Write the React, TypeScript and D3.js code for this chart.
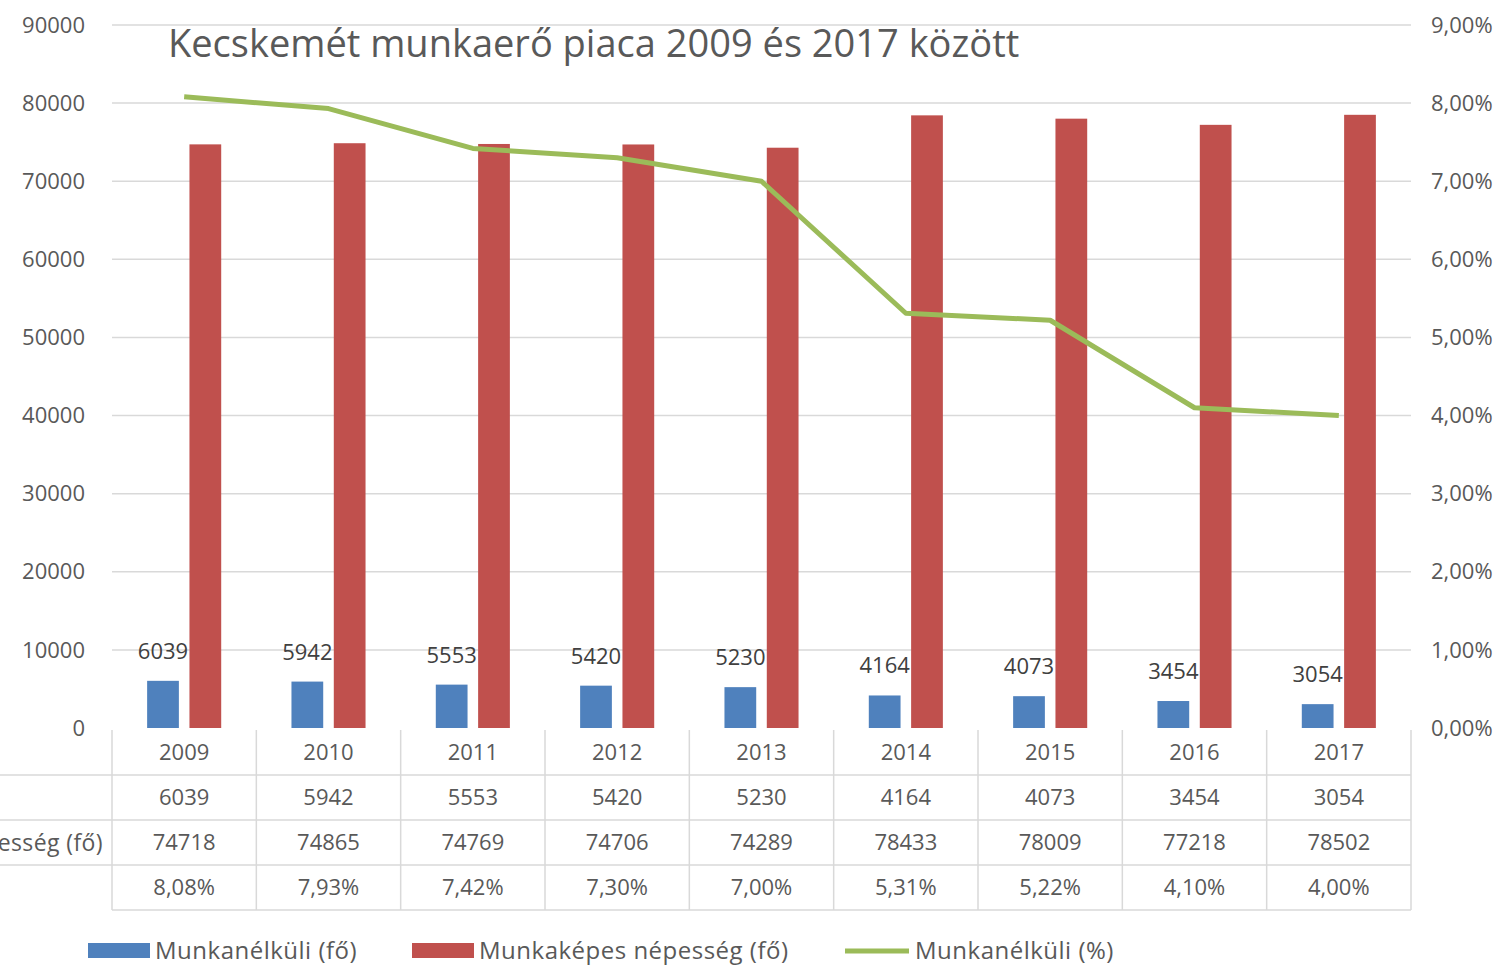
import React from "react";
import * as d3 from "d3";

const years = ["2009", "2010", "2011", "2012", "2013", "2014", "2015", "2016", "2017"];
const unemployed = [6039, 5942, 5553, 5420, 5230, 4164, 4073, 3454, 3054];
const workforce = [74718, 74865, 74769, 74706, 74289, 78433, 78009, 77218, 78502];
const unemployedPct = [8.08, 7.93, 7.42, 7.3, 7.0, 5.31, 5.22, 4.1, 4.0];
const leftTicks = [0, 10000, 20000, 30000, 40000, 50000, 60000, 70000, 80000, 90000];
const rightTicks = [0, 1, 2, 3, 4, 5, 6, 7, 8, 9];
const seriesNames = ["Munkanélküli (fő)", "Munkaképes népesség (fő)", "Munkanélküli (%)"];
const title = "Kecskemét munkaerő piaca 2009 és 2017 között";

const W = 1512;
const H = 967;
const font = "'Open Sans', Lato, sans-serif";
const txt = "#595959";
const grid = "#d9d9d9";
const blue = "#4F81BD";
const red = "#C0504D";
const green = "#9BBB59";

const fmtPct = (v: number) => v.toFixed(2).replace(".", ",") + "%";

const App = () => {
  const ref = React.useRef<SVGSVGElement>(null);

  React.useEffect(() => {
    const svg = d3.select(ref.current);
    svg.selectAll("*").remove();

    var left = 112,
      right = 1411,
      top = 25,
      bottom = 728,
      rowH = 45;

    const x = d3.scaleBand().domain(years).range([left, right]);
    const x1 = d3
      .scaleBand()
      .domain(["u", "w"])
      .range([0, x.bandwidth()])
      .paddingInner(0.25)
      .paddingOuter(0.83);
    const y = d3.scaleLinear().domain([0, 90000]).range([bottom, top]);
    const y2 = d3.scaleLinear().domain([0, 9]).range([bottom, top]);

    // gridlines
    svg
      .append("g")
      .selectAll("line")
      .data(leftTicks.slice(1))
      .join("line")
      .attr("x1", left)
      .attr("x2", right)
      .attr("y1", (d) => y(d))
      .attr("y2", (d) => y(d))
      .attr("stroke", grid)
      .attr("stroke-width", 1.5);

    // left axis
    svg
      .append("g")
      .selectAll("text")
      .data(leftTicks)
      .join("text")
      .attr("x", 85)
      .attr("y", (d) => y(d))
      .attr("dy", "0.35em")
      .attr("text-anchor", "end")
      .attr("font-size", 22)
      .attr("fill", txt)
      .text((d) => String(d));

    // right axis
    svg
      .append("g")
      .selectAll("text")
      .data(rightTicks)
      .join("text")
      .attr("x", 1431)
      .attr("y", (d) => y2(d))
      .attr("dy", "0.35em")
      .attr("font-size", 22)
      .attr("fill", txt)
      .text((d) => fmtPct(d));

    // title
    svg
      .append("text")
      .attr("x", 168)
      .attr("y", 57)
      .attr("font-size", 38)
      .attr("fill", txt)
      .text(title);

    // bars
    svg
      .append("g")
      .selectAll("rect")
      .data(years)
      .join("rect")
      .attr("x", (d) => x(d)! + x1("w")!)
      .attr("width", x1.bandwidth())
      .attr("y", (d, i) => y(workforce[i]))
      .attr("height", (d, i) => bottom - y(workforce[i]))
      .attr("fill", red);

    svg
      .append("g")
      .selectAll("rect")
      .data(years)
      .join("rect")
      .attr("x", (d) => x(d)! + x1("u")!)
      .attr("width", x1.bandwidth())
      .attr("y", (d, i) => y(unemployed[i]))
      .attr("height", (d, i) => bottom - y(unemployed[i]))
      .attr("fill", blue);

    // data labels on blue bars
    svg
      .append("g")
      .selectAll("text")
      .data(years)
      .join("text")
      .attr("x", (d) => x(d)! + x1("u")! + x1.bandwidth() / 2)
      .attr("y", (d, i) => y(unemployed[i]) - 22)
      .attr("text-anchor", "middle")
      .attr("font-size", 22)
      .attr("fill", "#404040")
      .text((d, i) => String(unemployed[i]));

    // line
    const line = d3
      .line<number>()
      .x((d, i) => x(years[i])! + x.bandwidth() / 2)
      .y((d) => y2(d));
    svg
      .append("path")
      .attr("d", line(unemployedPct))
      .attr("fill", "none")
      .attr("stroke", green)
      .attr("stroke-width", 5)
      .attr("stroke-linejoin", "round");

    // data table
    const tTop = bottom + 2;
    const rows = [years, unemployed.map(String), workforce.map(String), unemployedPct.map(fmtPct)];
    const table = svg.append("g");
    [1, 2, 3].forEach((r) => {
      table
        .append("line")
        .attr("x1", 0)
        .attr("x2", right)
        .attr("y1", tTop + r * rowH)
        .attr("y2", tTop + r * rowH)
        .attr("stroke", grid)
        .attr("stroke-width", 1.5);
    });
    table
      .append("line")
      .attr("x1", left)
      .attr("x2", right)
      .attr("y1", tTop + 4 * rowH)
      .attr("y2", tTop + 4 * rowH)
      .attr("stroke", grid)
      .attr("stroke-width", 1.5);
    table
      .selectAll("line.v")
      .data([...years.map((d) => x(d)!), right])
      .join("line")
      .attr("class", "v")
      .attr("x1", (d) => d)
      .attr("x2", (d) => d)
      .attr("y1", tTop)
      .attr("y2", tTop + 4 * rowH)
      .attr("stroke", grid)
      .attr("stroke-width", 1.5);

    rows.forEach((row, r) => {
      table
        .append("g")
        .selectAll("text")
        .data(row)
        .join("text")
        .attr("x", (d, i) => x(years[i])! + x.bandwidth() / 2)
        .attr("y", tTop + r * rowH + rowH / 2)
        .attr("dy", "0.35em")
        .attr("text-anchor", "middle")
        .attr("font-size", 22)
        .attr("fill", txt)
        .text((d) => d);
    });

    // row header of the table: the picture is cropped so only the end of the longest one shows
    table
      .append("text")
      .attr("x", 103)
      .attr("y", tTop + 2 * rowH + rowH / 2)
      .attr("dy", "0.35em")
      .attr("text-anchor", "end")
      .attr("font-size", 23)
      .attr("letter-spacing", 0.4)
      .attr("fill", txt)
      .text(seriesNames[1]);

    // legend
    const legendX = [88, 412, 845];
    const lg = svg.append("g");
    seriesNames.forEach((name, i) => {
      if (i < 2) {
        lg.append("rect")
          .attr("x", legendX[i])
          .attr("y", 943)
          .attr("width", 62)
          .attr("height", 15)
          .attr("fill", i === 0 ? blue : red);
      } else {
        lg.append("line")
          .attr("x1", legendX[i])
          .attr("x2", legendX[i] + 64)
          .attr("y1", 951)
          .attr("y2", 951)
          .attr("stroke", green)
          .attr("stroke-width", 5);
      }
      lg.append("text")
        .attr("x", legendX[i] + (i < 2 ? 67 : 70))
        .attr("y", 951)
        .attr("dy", "0.35em")
        .attr("font-size", 24)
        .attr("letter-spacing", 0.5)
        .attr("fill", txt)
        .text(name);
    });
  }, []);

  return (
    <svg
      ref={ref}
      width={W}
      height={H}
      style={{ position: "absolute", left: 0, top: 0, fontFamily: font, background: "#fff" }}
    />
  );
};

export default App;
